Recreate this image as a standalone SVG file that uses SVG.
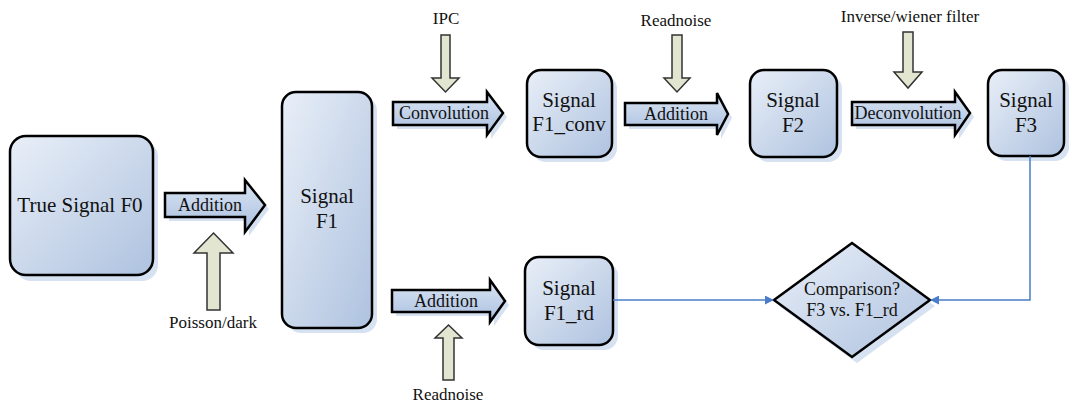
<svg xmlns="http://www.w3.org/2000/svg" width="1072" height="406" viewBox="0 0 1072 406">
<defs>
<linearGradient id="g" x1="0" y1="0" x2="1" y2="1">
<stop offset="0" stop-color="#e9eff8"/>
<stop offset="1" stop-color="#aec2df"/>
</linearGradient>
<linearGradient id="ga" x1="0" y1="0" x2="0" y2="1">
<stop offset="0" stop-color="#dbe5f3"/>
<stop offset="1" stop-color="#a9bfdf"/>
</linearGradient>
<marker id="ah" viewBox="0 0 10 10" refX="9" refY="5" markerWidth="9" markerHeight="9" markerUnits="userSpaceOnUse" orient="auto">
<path d="M0,0 L10,5 L0,10 Z" fill="#4a7cc9"/>
</marker>
<style>
.box{fill:url(#g);stroke:#000;stroke-width:2.5}
.sh{fill:#d6e1f1}
.blk{fill:url(#ga);stroke:#000;stroke-width:2.5;stroke-linejoin:miter}
.bge{fill:#e2e5d0;stroke:#333;stroke-width:1.5}
.nt{font-family:"Liberation Serif","Times New Roman",serif;font-size:21px;fill:#111;text-anchor:middle}
.lt{font-family:"Liberation Serif","Times New Roman",serif;font-size:17px;fill:#111;text-anchor:middle}
.bt{font-family:"Liberation Serif","Times New Roman",serif;font-size:18px;fill:#111;text-anchor:middle}
.con{fill:none;stroke:#4a7cc9;stroke-width:1.5}
</style>
</defs>
<rect width="1072" height="406" fill="#fff"/>

<g id="n-f0">
<rect class="sh" x="15" y="141" width="143" height="140" rx="16"/>
<rect class="box" x="10" y="136" width="143" height="139" rx="16"/>
<text class="nt" x="80" y="212">True Signal F0</text>
</g>

<g id="n-f1">
<rect class="sh" x="287" y="97" width="90" height="236" rx="14"/>
<rect class="box" x="282" y="92" width="90" height="236" rx="14"/>
<text class="nt" x="327" y="203">Signal</text>
<text class="nt" x="327" y="228">F1</text>
</g>

<g id="n-f1conv">
<rect class="sh" x="532" y="75" width="85" height="87" rx="14"/>
<rect class="box" x="527" y="70" width="85" height="87" rx="14"/>
<text class="nt" x="569" y="107">Signal</text>
<text class="nt" x="569" y="131">F1_conv</text>
</g>

<g id="n-f2">
<rect class="sh" x="755" y="75" width="87" height="87" rx="14"/>
<rect class="box" x="750" y="70" width="87" height="87" rx="14"/>
<text class="nt" x="793" y="107">Signal</text>
<text class="nt" x="793" y="132">F2</text>
</g>

<g id="n-f3">
<rect class="sh" x="993" y="75" width="76" height="86" rx="14"/>
<rect class="box" x="988" y="70" width="76" height="86" rx="14"/>
<text class="nt" x="1026" y="107">Signal</text>
<text class="nt" x="1026" y="132">F3</text>
</g>

<g id="n-f1rd">
<rect class="sh" x="530" y="262" width="88" height="88" rx="14"/>
<rect class="box" x="525" y="257" width="88" height="88" rx="14"/>
<text class="nt" x="569" y="295">Signal</text>
<text class="nt" x="569" y="320">F1_rd</text>
</g>

<g id="n-cmp">
<path class="sh" d="M857,249 L935,306 L857,363 L779,306 Z"/>
<path class="box" d="M852,243 L930,300 L852,357 L774,300 Z"/>
<text class="bt" x="852" y="295">Comparison?</text>
<text class="bt" x="852" y="316">F3 vs. F1_rd</text>
</g>

<g id="ops">
<g id="op-add1">
<path class="sh" d="M169,197 L249,197 L249,184 L269,209 L249,236 L249,221 L169,221 Z"/>
<path class="blk" d="M165,193 L245,193 L245,180 L265,205 L245,232 L245,217 L165,217 Z"/>
<text class="bt" x="210" y="211">Addition</text>
</g>
<g id="op-conv">
<path class="sh" d="M397,106 L491,106 L491,96 L507,117 L491,139 L491,129 L397,129 Z"/>
<path class="blk" d="M393,102 L487,102 L487,92 L503,113 L487,135 L487,125 L393,125 Z"/>
<text class="bt" x="444" y="119">Convolution</text>
</g>
<g id="op-add2">
<path class="sh" d="M629,107 L721,107 L721,97 L732,118 L721,139 L721,129 L629,129 Z"/>
<path class="blk" d="M625,103 L717,103 L717,93 L728,114 L717,135 L717,125 L625,125 Z"/>
<text class="bt" x="676" y="120">Addition</text>
</g>
<g id="op-deconv">
<path class="sh" d="M856,106 L959,106 L959,96 L974,117 L959,139 L959,129 L856,129 Z"/>
<path class="blk" d="M852,102 L955,102 L955,92 L970,113 L955,135 L955,125 L852,125 Z"/>
<text class="bt" x="908" y="119">Deconvolution</text>
</g>
<g id="op-add3">
<path class="sh" d="M396,294 L494,294 L494,284 L509,305 L494,326 L494,316 L396,316 Z"/>
<path class="blk" d="M392,290 L490,290 L490,280 L505,301 L490,322 L490,312 L392,312 Z"/>
<text class="bt" x="446" y="307">Addition</text>
</g>
</g>

<g id="inputs">
<g id="in-poisson">
<path class="bge" d="M207,310 L207,253 L194,253 L213.5,233 L233,253 L220,253 L220,310 Z"/>
<text class="lt" x="213" y="328">Poisson/dark</text>
</g>
<g id="in-ipc">
<path class="bge" d="M441,35 L450,35 L450,78 L459,78 L445.5,92 L432,78 L441,78 Z"/>
<text class="lt" x="446" y="24">IPC</text>
</g>
<g id="in-readnoise1">
<path class="bge" d="M672,35 L682,35 L682,78 L690,78 L677,92 L664,78 L672,78 Z"/>
<text class="lt" x="676" y="26">Readnoise</text>
</g>
<g id="in-filter">
<path class="bge" d="M903,32 L913,32 L913,72 L922,72 L908,88 L894,72 L903,72 Z"/>
<text class="lt" x="910" y="22">Inverse/wiener filter</text>
</g>
<g id="in-readnoise2">
<path class="bge" d="M443,380 L443,338 L435,338 L448.5,325 L462,338 L454,338 L454,380 Z"/>
<text class="lt" x="448" y="400">Readnoise</text>
</g>
</g>

<g id="connectors">
<path class="con" d="M613,300 L773,300" marker-end="url(#ah)"/>
<path class="con" d="M1030,156 L1030,300 L931,300" marker-end="url(#ah)"/>
</g>
</svg>
